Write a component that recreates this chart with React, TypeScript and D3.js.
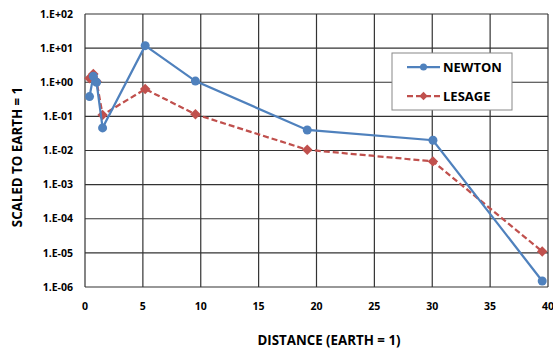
import React, { useEffect, useRef } from 'react';
import * as d3 from 'd3';

// distance from sun, Earth = 1
const distances = [0.39, 0.72, 1.0, 1.52, 5.2, 9.54, 19.2, 30.06, 39.5];
const newton = [0.38, 1.5, 1.0, 0.046, 11.8, 1.08, 0.04, 0.02, 1.5e-6];
const lesage = [1.3, 1.75, 1.05, 0.11, 0.63, 0.115, 0.0105, 0.0048, 1.1e-5];
const xTicks = [0, 5, 10, 15, 20, 25, 30, 35, 40];
const yTicks = [1e2, 1e1, 1e0, 1e-1, 1e-2, 1e-3, 1e-4, 1e-5, 1e-6];

const BLUE = '#4F81BD';
const RED = '#C0504D';
const FONT = '"Open Sans", Lato, sans-serif';

function fmtExp(v: number) {
  const e = Math.round(Math.log10(v));
  const s = e < 0 ? '-' : '+';
  return `1.E${s}${String(Math.abs(e)).padStart(2, '0')}`;
}

export default function App() {
  const ref = useRef<SVGSVGElement>(null);

  useEffect(() => {
    const svg = d3.select(ref.current);
    svg.selectAll('*').remove();

    const W = 553, H = 350;
    const margin = { top: 14, right: 5, bottom: 63, left: 85 };
    const width = W - margin.left - margin.right;
    const height = H - margin.top - margin.bottom;

    svg.append('rect').attr('width', W).attr('height', H).attr('fill', '#fff');

    const g = svg.append('g').attr('transform', `translate(${margin.left},${margin.top})`);

    const x = d3.scaleLinear().domain([0, 40]).range([0, width]);
    const y = d3.scaleLog().domain([1e-6, 1e2]).range([height, 0]);

    // grid
    g.selectAll('line.gy').data(yTicks).enter().append('line').attr('class', 'gy')
      .attr('x1', 0).attr('x2', width).attr('y1', d => y(d)).attr('y2', d => y(d))
      .attr('stroke', '#333').attr('stroke-width', 1.2);
    g.selectAll('line.gx').data(xTicks).enter().append('line').attr('class', 'gx')
      .attr('x1', d => x(d)).attr('x2', d => x(d)).attr('y1', 0).attr('y2', height)
      .attr('stroke', '#333').attr('stroke-width', 1.2);

    // tick labels
    g.selectAll('text.yt').data(yTicks).enter().append('text').attr('class', 'yt')
      .attr('x', -12).attr('y', d => y(d)).attr('dy', '0.35em').attr('text-anchor', 'end')
      .style('font-family', FONT).style('font-weight', 'bold').style('font-size', '10.5px').style('fill', '#000')
      .text(d => fmtExp(d));
    g.selectAll('text.xt').data(xTicks).enter().append('text').attr('class', 'xt')
      .attr('x', d => x(d)).attr('y', height + 23).attr('text-anchor', 'middle')
      .style('font-family', FONT).style('font-weight', 'bold').style('font-size', '10.5px').style('fill', '#000')
      .text(d => d);

    // axis titles
    svg.append('text').attr('x', 329).attr('y', 345).attr('text-anchor', 'middle')
      .style('font-family', FONT).style('font-weight', 'bold').style('font-size', '13.3px')
      .text('DISTANCE (EARTH = 1)');
    svg.append('text').attr('transform', 'translate(22,157) rotate(-90)')
      .attr('text-anchor', 'middle')
      .style('font-family', FONT).style('font-weight', 'bold').style('font-size', '13.3px')
      .text('SCALED TO EARTH = 1');

    const line = d3.line<number>().x((_, i) => x(distances[i])).y(d => y(d));

    // lesage
    g.append('path').datum(lesage).attr('d', line).attr('fill', 'none')
      .attr('stroke', RED).attr('stroke-width', 2.25).attr('stroke-dasharray', '6,3');
    const diamond = d3.symbol().type(d3.symbolDiamond2).size(70);
    g.selectAll('path.ls').data(lesage).enter().append('path').attr('class', 'ls')
      .attr('d', diamond).attr('fill', RED)
      .attr('transform', (d, i) => `translate(${x(distances[i])},${y(d)})`);

    // newton
    g.append('path').datum(newton).attr('d', line).attr('fill', 'none')
      .attr('stroke', BLUE).attr('stroke-width', 2.25);
    g.selectAll('circle.nw').data(newton).enter().append('circle').attr('class', 'nw')
      .attr('cx', (d, i) => x(distances[i])).attr('cy', d => y(d)).attr('r', 4.5).attr('fill', BLUE);

    // legend
    const lg = svg.append('g').attr('transform', 'translate(392,53)');
    lg.append('rect').attr('width', 120).attr('height', 57).attr('fill', '#fff')
      .attr('stroke', '#888').attr('stroke-width', 1);
    const items = [
      { name: 'NEWTON', color: BLUE, dash: null, sym: 'c' },
      { name: 'LESAGE', color: RED, dash: '6,3', sym: 'd' },
    ];
    items.forEach((it, i) => {
      const yy = 14 + i * 29;
      lg.append('line').attr('x1', 15).attr('x2', 48).attr('y1', yy).attr('y2', yy)
        .attr('stroke', it.color).attr('stroke-width', 2.25).attr('stroke-dasharray', it.dash);
      if (it.sym === 'c') {
        lg.append('circle').attr('cx', 31.5).attr('cy', yy).attr('r', 3.5).attr('fill', it.color);
      } else {
        lg.append('path').attr('d', d3.symbol().type(d3.symbolDiamond2).size(45)())
          .attr('transform', `translate(31.5,${yy})`).attr('fill', it.color);
      }
      lg.append('text').attr('x', 51).attr('y', yy).attr('dy', '0.35em')
        .style('font-family', FONT).style('font-weight', 'bold').style('font-size', '13px')
        .text(it.name);
    });
  }, []);

  return (
    <div style={{ position: 'fixed', left: 0, top: 0, width: 553, height: 350, overflow: 'hidden' }}>
      <svg ref={ref} width={553} height={350} style={{ display: 'block' }} />
    </div>
  );
}
